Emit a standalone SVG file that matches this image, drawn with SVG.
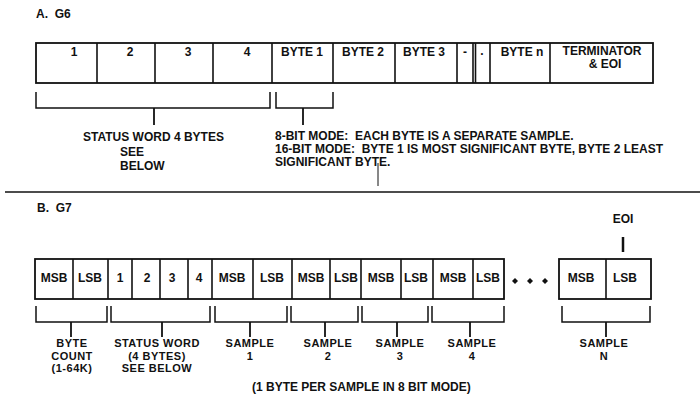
<svg xmlns="http://www.w3.org/2000/svg" width="700" height="400" viewBox="0 0 700 400">
<style>
text{font-family:"Liberation Sans",Arial,sans-serif;font-weight:bold;font-size:12px;fill:#111}
.c{text-anchor:middle}
.lb{font-size:11px;letter-spacing:0.5px}
.box{fill:none;stroke:#111;stroke-width:1.8}
.div{stroke:#111;stroke-width:1.6}
.br{fill:none;stroke:#111;stroke-width:1.5}
.st{stroke:#111;stroke-width:1.8}
</style>
<rect width="700" height="400" fill="#fff"/>
<text x="36" y="18" font-size="11" xml:space="preserve">A.  G6</text>
<text x="37" y="212" font-size="11" xml:space="preserve">B.  G7</text>
<g id="g6-row">
<rect class="box" x="36" y="43" width="617" height="40"/>
<g id="g6-1"><text class="c" x="74" y="56">1</text></g>
<g id="g6-2"><line class="div" x1="97" y1="43" x2="97" y2="83"/><text class="c" x="130" y="56">2</text></g>
<g id="g6-3"><line class="div" x1="155" y1="43" x2="155" y2="83"/><text class="c" x="188" y="56">3</text></g>
<g id="g6-4"><line class="div" x1="213" y1="43" x2="213" y2="83"/><text class="c" x="247" y="56">4</text></g>
<g id="g6-byte1"><line class="div" x1="272" y1="43" x2="272" y2="83"/><text class="c" x="302" y="56">BYTE 1</text></g>
<g id="g6-byte2"><line class="div" x1="333" y1="43" x2="333" y2="83"/><text class="c" x="363" y="56">BYTE 2</text></g>
<g id="g6-byte3"><line class="div" x1="395" y1="43" x2="395" y2="83"/><text class="c" x="424" y="56">BYTE 3</text></g>
<g id="g6-dash1"><line class="div" x1="457" y1="43" x2="457" y2="83"/><text class="c" x="465" y="56">-</text></g>
<g id="g6-dash2"><line class="div" x1="473" y1="43" x2="473" y2="83"/><line class="div" x1="475.5" y1="43" x2="475.5" y2="83"/><text class="c" x="482" y="55">.</text></g>
<g id="g6-byten"><line class="div" x1="490" y1="43" x2="490" y2="83"/><text class="c" x="522" y="56">BYTE n</text></g>
<g id="g6-term"><line class="div" x1="550" y1="43" x2="550" y2="83"/><text class="c" x="602" y="55">TERMINATOR</text><text class="c" x="605" y="68">&amp; EOI</text></g>
</g>
<g id="g6-notes">
<text x="83" y="141">STATUS WORD 4 BYTES</text>
<text x="120" y="156">SEE</text>
<text x="120" y="170">BELOW</text>
<text x="275" y="140" xml:space="preserve">8-BIT MODE:  EACH BYTE IS A SEPARATE SAMPLE.</text>
<text x="275" y="153" xml:space="preserve">16-BIT MODE:  BYTE 1 IS MOST SIGNIFICANT BYTE, BYTE 2 LEAST</text>
<text x="275" y="166">SIGNIFICANT BYTE.</text>
</g>
<line x1="5" y1="192" x2="700" y2="192" stroke="#111" stroke-width="1.6"/>
<g id="g7-row">
<rect class="box" x="35" y="259" width="469" height="40"/>
<g id="g7-bc-msb"><text class="c" x="54" y="282">MSB</text></g>
<g id="g7-bc-lsb"><line class="div" x1="73" y1="259" x2="73" y2="299"/><text class="c" x="90" y="282">LSB</text></g>
<g id="g7-s1"><line class="div" x1="108" y1="259" x2="108" y2="299"/><text class="c" x="120" y="282">1</text></g>
<g id="g7-s2"><line class="div" x1="132" y1="259" x2="132" y2="299"/><text class="c" x="147" y="282">2</text></g>
<g id="g7-s3"><line class="div" x1="160" y1="259" x2="160" y2="299"/><text class="c" x="172" y="282">3</text></g>
<g id="g7-s4"><line class="div" x1="188" y1="259" x2="188" y2="299"/><text class="c" x="199" y="282">4</text></g>
<g id="g7-p1-msb"><line class="div" x1="212" y1="259" x2="212" y2="299"/><text class="c" x="232" y="282">MSB</text></g>
<g id="g7-p1-lsb"><line class="div" x1="253" y1="259" x2="253" y2="299"/><text class="c" x="272" y="282">LSB</text></g>
<g id="g7-p2-msb"><line class="div" x1="292" y1="259" x2="292" y2="299"/><text class="c" x="311" y="282">MSB</text></g>
<g id="g7-p2-lsb"><line class="div" x1="330" y1="259" x2="330" y2="299"/><text class="c" x="346" y="282">LSB</text></g>
<g id="g7-p3-msb"><line class="div" x1="361" y1="259" x2="361" y2="299"/><text class="c" x="381" y="282">MSB</text></g>
<g id="g7-p3-lsb"><line class="div" x1="401" y1="259" x2="401" y2="299"/><text class="c" x="416" y="282">LSB</text></g>
<g id="g7-p4-msb"><line class="div" x1="433" y1="259" x2="433" y2="299"/><text class="c" x="453" y="282">MSB</text></g>
<g id="g7-p4-lsb"><line class="div" x1="473" y1="259" x2="473" y2="299"/><text class="c" x="488" y="282">LSB</text></g>
</g>
<g id="g7-ellipsis" fill="#111">
<path d="M515,278 l3,3 l-3,3 l-3,-3z"/>
<path d="M530,278 l3,3 l-3,3 l-3,-3z"/>
<path d="M545,278 l3,3 l-3,3 l-3,-3z"/>
</g>
<g id="g7-pn">
<rect class="box" x="559" y="259" width="92" height="40"/>
<g id="g7-pn-msb"><text class="c" x="581" y="282">MSB</text></g>
<g id="g7-pn-lsb"><line class="div" x1="606" y1="259" x2="606" y2="299"/><text class="c" x="625" y="282">LSB</text></g>
</g>
<g id="eoi"><text class="c" x="623" y="223">EOI</text></g>
<g id="connectors">
<path class="br" d="M36,92 V108 H270 V92"/>
<line class="st" x1="154" y1="108" x2="154" y2="125"/>
<path class="br" d="M276,92 V108 H333 V92"/>
<line class="st" x1="303" y1="108" x2="303" y2="125"/>
<line x1="378" y1="163" x2="378" y2="186" stroke="#111" stroke-width="1"/>
<line x1="623" y1="237" x2="623" y2="252" stroke="#111" stroke-width="2.5"/>
<path class="br" d="M36,306 V322 H107 V306"/>
<line class="st" x1="71" y1="322" x2="71" y2="337"/>
<path class="br" d="M111,306 V322 H210 V306"/>
<line class="st" x1="162" y1="322" x2="162" y2="337"/>
<path class="br" d="M215,306 V322 H287 V306"/>
<line class="st" x1="250" y1="322" x2="250" y2="337"/>
<path class="br" d="M291,306 V322 H358 V306"/>
<line class="st" x1="325" y1="322" x2="325" y2="337"/>
<path class="br" d="M362,306 V322 H428 V306"/>
<line class="st" x1="397" y1="322" x2="397" y2="337"/>
<path class="br" d="M432,306 V322 H504 V306"/>
<line class="st" x1="470" y1="322" x2="470" y2="337"/>
<path class="br" d="M562,306 V322 H650 V306"/>
<line class="st" x1="606" y1="322" x2="606" y2="337"/>
</g>
<g id="g7-labels">
<text class="c lb" x="72" y="347">BYTE</text>
<text class="c lb" x="72" y="359.5">COUNT</text>
<text class="c lb" x="72" y="372">(1-64K)</text>
<text class="c lb" x="157" y="347">STATUS WORD</text>
<text class="c lb" x="157" y="359.5">(4 BYTES)</text>
<text class="c lb" x="157" y="372">SEE BELOW</text>
<text class="c lb" x="250" y="347">SAMPLE</text>
<text class="c lb" x="250" y="359.5">1</text>
<text class="c lb" x="328" y="347">SAMPLE</text>
<text class="c lb" x="328" y="359.5">2</text>
<text class="c lb" x="400" y="347">SAMPLE</text>
<text class="c lb" x="400" y="359.5">3</text>
<text class="c lb" x="472" y="347">SAMPLE</text>
<text class="c lb" x="472" y="359.5">4</text>
<text class="c lb" x="604" y="347">SAMPLE</text>
<text class="c lb" x="604" y="359.5">N</text>
<text x="252" y="391">(1 BYTE PER SAMPLE IN 8 BIT MODE)</text>
</g>
</svg>
